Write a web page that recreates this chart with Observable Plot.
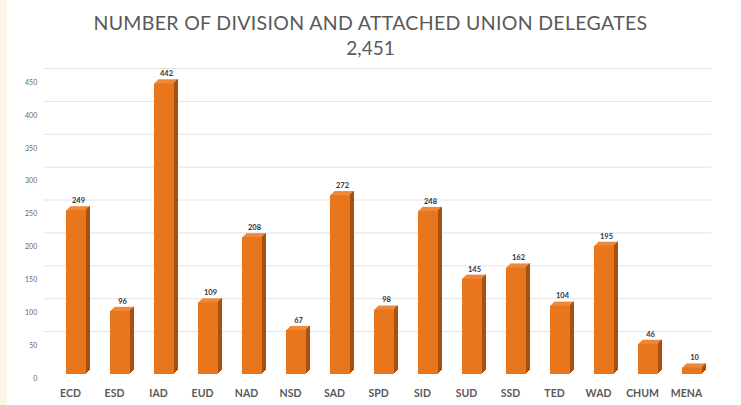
<!DOCTYPE html>
<html>
<head>
<meta charset="utf-8">
<script src="https://cdn.jsdelivr.net/npm/d3@7"></script>
<script src="https://cdn.jsdelivr.net/npm/@observablehq/plot@0.6"></script>
<style>
  html, body { margin: 0; padding: 0; background: #ffffff; }
  body { width: 741px; height: 405px; position: relative; overflow: hidden; font-family: Lato, "Open Sans", sans-serif; }
  #strip { position: absolute; left: 0; top: 0; width: 7px; height: 405px; background: #fbf6e7; }
  .title { position: absolute; left: 0; width: 741px; text-align: center; color: #595959; font-family: Lato, sans-serif; font-weight: 400; }
  #t1 { top: 11px; font-size: 19.5px; letter-spacing: 0.33px; }
  #t2 { top: 36px; font-size: 19px; }
  #chart { position: absolute; left: 0; top: 65px; }
</style>
</head>
<body>
<div id="strip"></div>
<div class="title" id="t1">NUMBER OF DIVISION AND ATTACHED UNION DELEGATES</div>
<div class="title" id="t2">2,451</div>
<div id="chart"></div>
<script>
const divisions = ["ECD","ESD","IAD","EUD","NAD","NSD","SAD","SPD","SID","SUD","SSD","TED","WAD","CHUM","MENA"];
const delegates = [249, 96, 442, 109, 208, 67, 272, 98, 248, 145, 162, 104, 195, 46, 10];
const yTicks = [0, 50, 100, 150, 200, 250, 300, 350, 400, 450];

const data = divisions.map((d, i) => ({division: d, value: delegates[i]}));

const depth = [1, 2, 3, 4];
const bw = 20; // approx front face width (for side strip inset)
const topFaces = depth.map(k => Plot.barY(data, {x: "division", y: "value", fill: "#f0883a", dx: 6 + k, dy: -k}));
const sideFaces = depth.map(k => Plot.barY(data, {x: "division", y: "value", fill: "#a9500f", dx: 6 + k, dy: -k, insetLeft: bw - 1}));

const chart = Plot.plot({
  width: 741,
  height: 340,
  marginLeft: 43.75,
  marginRight: 29.75,
  marginTop: 13,
  marginBottom: 31,
  style: {background: "transparent", fontFamily: "Lato, sans-serif"},
  x: {domain: divisions, paddingInner: 0.55, paddingOuter: 0.275, label: null},
  y: {domain: [0, 450], label: null},
  marks: [
    Plot.ruleY(yTicks.filter(t => t > 0), {y: d => d, dy: -10, stroke: "#e3e3e3", strokeWidth: 1}),
    ...topFaces,
    ...sideFaces,
    Plot.barY(data, {x: "division", y: "value", fill: "#e8761d", dx: 6}),
    Plot.text(data, {x: "division", y: "value", text: d => String(d.value), dx: 8, dy: -10, fontSize: 7.5, fontWeight: "bold", fill: "#333333"}),
    Plot.axisY({ticks: yTicks, tickSize: 0, tickPadding: 7, dy: 4, fontSize: 7, fill: "#666666", label: null}),
    Plot.axisX({tickSize: 0, tickPadding: 15, fontSize: 10.5, fontWeight: "bold", fill: "#595959", label: null})
  ]
});
document.getElementById("chart").appendChild(chart);
</script>
</body>
</html>
